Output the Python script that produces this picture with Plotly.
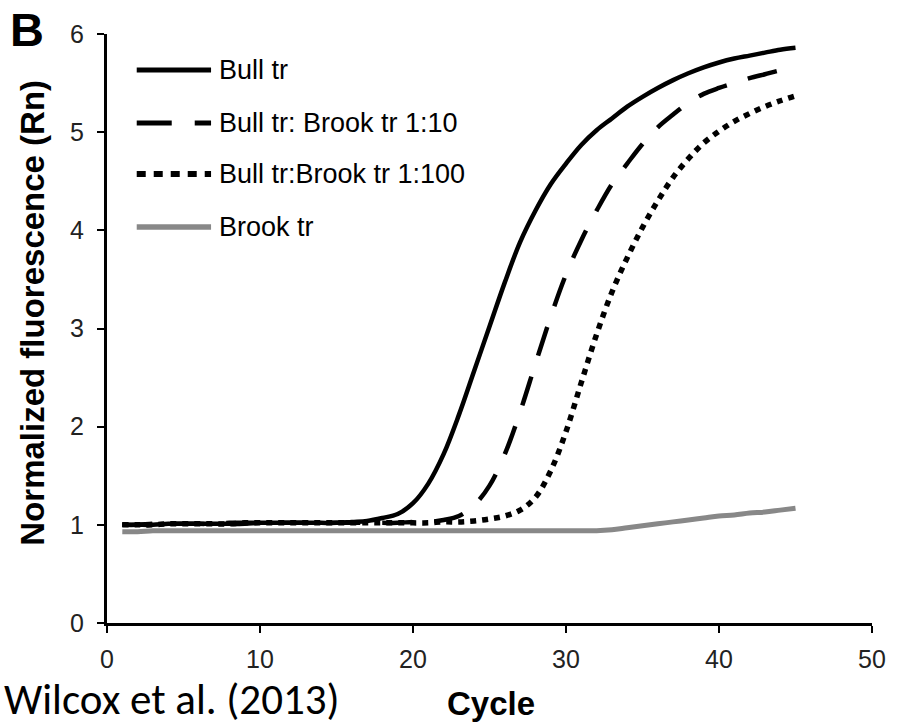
import plotly.graph_objects as go

cycles = [1, 2, 3, 4, 5, 6, 7, 8, 9, 10, 11, 12, 13, 14, 15, 16, 17, 18, 19, 20,
          21, 22, 23, 24, 25, 26, 27, 28, 29, 30, 31, 32, 33, 34, 35, 36, 37, 38, 39, 40,
          41, 42, 43, 44, 45]

bull_tr = [1.00, 1.00, 1.00, 1.01, 1.01, 1.01, 1.01, 1.01, 1.01, 1.02,
           1.02, 1.02, 1.02, 1.02, 1.02, 1.03, 1.04, 1.07, 1.11, 1.22,
           1.42, 1.72, 2.12, 2.57, 3.02, 3.47, 3.88, 4.20, 4.47, 4.68,
           4.87, 5.02, 5.14, 5.26, 5.36, 5.45, 5.53, 5.60, 5.66, 5.71,
           5.75, 5.78, 5.81, 5.84, 5.86]

bull_brook_10 = [1.00, 1.00, 1.01, 1.01, 1.01, 1.01, 1.01, 1.02, 1.02, 1.02,
                 1.02, 1.02, 1.02, 1.02, 1.02, 1.02, 1.02, 1.02, 1.02, 1.03,
                 1.03, 1.05, 1.09, 1.20, 1.40, 1.72, 2.15, 2.64, 3.12, 3.55,
                 3.90, 4.20, 4.47, 4.68, 4.88, 5.05, 5.18, 5.30, 5.39, 5.45,
                 5.50, 5.55, 5.59, 5.63, 5.66]

bull_brook_100 = [1.00, 1.00, 1.00, 1.01, 1.01, 1.01, 1.01, 1.01, 1.02, 1.02,
                  1.02, 1.02, 1.02, 1.02, 1.02, 1.02, 1.02, 1.02, 1.02, 1.02,
                  1.02, 1.03, 1.03, 1.04, 1.06, 1.09, 1.15, 1.28, 1.55, 1.95,
                  2.45, 2.94, 3.37, 3.72, 4.03, 4.30, 4.54, 4.73, 4.89, 5.01,
                  5.11, 5.19, 5.26, 5.32, 5.37]

brook_tr = [0.93, 0.93, 0.94, 0.94, 0.94, 0.94, 0.94, 0.94, 0.94, 0.94,
            0.94, 0.94, 0.94, 0.94, 0.94, 0.94, 0.94, 0.94, 0.94, 0.94,
            0.94, 0.94, 0.94, 0.94, 0.94, 0.94, 0.94, 0.94, 0.94, 0.94,
            0.94, 0.94, 0.95, 0.97, 0.99, 1.01, 1.03, 1.05, 1.07, 1.09,
            1.10, 1.12, 1.13, 1.15, 1.17]

series_names = ["Bull tr", "Bull tr: Brook tr 1:10", "Bull tr:Brook tr 1:100", "Brook tr"]
x_ticks = [0, 10, 20, 30, 40, 50]
y_ticks = [0, 1, 2, 3, 4, 5, 6]

styles = [
    dict(color="black", width=4.5, dash="solid", legend_dash="solid"),
    dict(color="black", width=4.5, dash="30px,22px", legend_dash="35px,23px"),
    dict(color="black", width=5.5, dash="6px,6px", legend_dash="9px,8px"),
    dict(color="#888888", width=5, dash="solid", legend_dash="solid"),
]
series_values = [bull_tr, bull_brook_10, bull_brook_100, brook_tr]

W, H = 898, 727
L, R, T, B = 107, 19, 34, 104
pw, ph = W - L - R, H - T - B


def px_x(p):
    return (p - L) / pw


def px_y(p):
    return (H - B - p) / ph


fig = go.Figure()
for name, vals, st in zip(series_names, series_values, styles):
    fig.add_trace(go.Scatter(x=cycles, y=vals, mode="lines", name=name,
                             line=dict(color=st["color"], width=st["width"],
                                       dash=st["dash"], shape="spline", smoothing=1.0),
                             showlegend=False))

# manual legend (long line samples as in the original)
legend_y = [70, 123, 174, 227]
shapes = []
annotations = []
for name, st, ly in zip(series_names, styles, legend_y):
    shapes.append(dict(type="line", xref="paper", yref="paper",
                       x0=px_x(137), x1=px_x(212), y0=px_y(ly), y1=px_y(ly),
                       line=dict(color=st["color"], width=st["width"] + 0.5,
                                 dash=st["legend_dash"])))
    annotations.append(dict(text=name, xref="paper", yref="paper",
                            x=px_x(218), y=px_y(ly), xanchor="left", yanchor="middle",
                            showarrow=False,
                            font=dict(family="Liberation Sans, Arial, sans-serif", size=27, color="black")))

annotations.append(dict(text="<b>B</b>", xref="paper", yref="paper",
                        x=px_x(26), y=px_y(30), xanchor="center", yanchor="middle",
                        showarrow=False,
                        font=dict(family="Liberation Sans, Arial, sans-serif", size=47, color="black")))
annotations.append(dict(text="<b>Normalized fluorescence (Rn)</b>", xref="paper", yref="paper",
                        x=px_x(31), y=px_y(313), xanchor="center", yanchor="middle",
                        textangle=-90, showarrow=False,
                        font=dict(family="Liberation Sans, Arial, sans-serif", size=33, color="black")))
annotations.append(dict(text="<b>Cycle</b>", xref="paper", yref="paper",
                        x=px_x(495), y=px_y(703), xanchor="center", yanchor="middle",
                        showarrow=False,
                        font=dict(family="Liberation Sans, Arial, sans-serif", size=33, color="black")))
annotations.append(dict(text="Wilcox et al. (2013)", xref="paper", yref="paper",
                        x=px_x(2), y=px_y(727), xanchor="left", yanchor="bottom",
                        showarrow=False, borderpad=0,
                        font=dict(family="Carlito, Calibri, Lato, sans-serif", size=43, color="black")))

tickfont = dict(family="Liberation Sans, Arial, sans-serif", size=25, color="#222222")

fig.update_layout(
    width=W, height=H,
    margin=dict(l=L, r=R, t=T, b=B),
    paper_bgcolor="white", plot_bgcolor="white",
    shapes=shapes, annotations=annotations,
    xaxis=dict(range=[0, 50], tickvals=x_ticks, ticktext=[str(v) for v in x_ticks],
               showgrid=False, zeroline=False, showline=True, linecolor="black", linewidth=3,
               ticks="outside", ticklen=7, tickwidth=2, tickcolor="black",
               tickfont=tickfont, ticklabelstandoff=5),
    yaxis=dict(range=[0, 6], tickvals=y_ticks, ticktext=[str(v) for v in y_ticks],
               showgrid=False, zeroline=False, showline=True, linecolor="black", linewidth=3,
               ticks="outside", ticklen=7, tickwidth=2, tickcolor="black",
               tickfont=tickfont, ticklabelstandoff=8),
)

fig.write_html("out.html", config={"displayModeBar": False},
               post_script="document.body.style.margin='0px';document.body.style.overflow='hidden';")
